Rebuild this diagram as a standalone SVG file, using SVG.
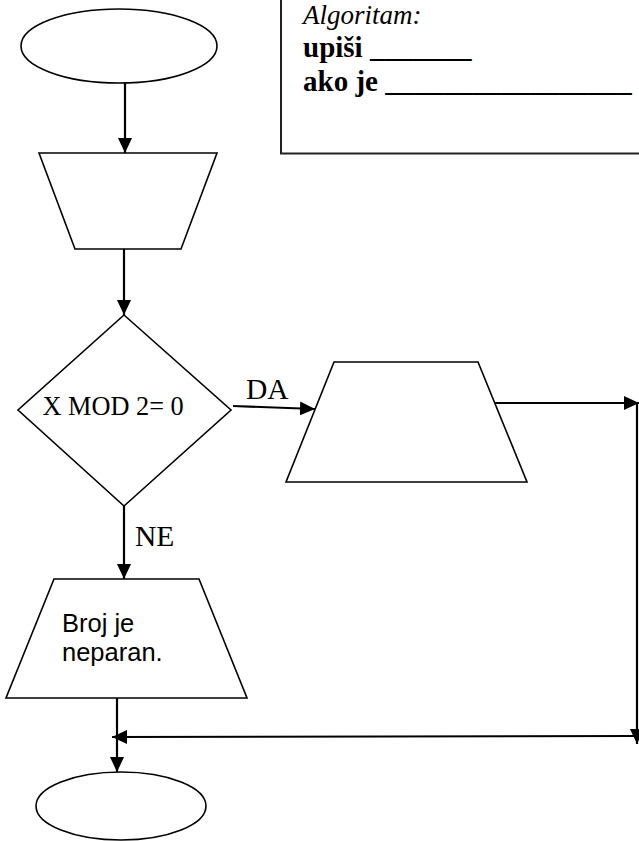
<svg xmlns="http://www.w3.org/2000/svg" width="639" height="841" viewBox="0 0 639 841">
<style>
.shape{fill:#fff;stroke:#000;stroke-width:1.6}
.conn{fill:none;stroke:#000;stroke-width:2.2}
.serif{font-family:"Liberation Serif","Times New Roman",serif;fill:#000}
.sans{font-family:"Liberation Sans",Arial,sans-serif;fill:#000}
</style>
<defs>
<marker id="arr" markerUnits="userSpaceOnUse" markerWidth="16" markerHeight="14" refX="15" refY="7" orient="auto">
<path d="M0,0 L15,7 L0,14 Z" fill="#000"/>
</marker>
</defs>
<g id="note">
<rect x="281" y="-10" width="380" height="163.5" fill="#fff" stroke="#222" stroke-width="2"/>
<text class="serif" x="303" y="24" font-size="27" font-style="italic">Algoritam:</text>
<text class="serif" x="303" y="57" font-size="29" font-weight="bold">upiši _______</text>
<text class="serif" x="303" y="91" font-size="29" font-weight="bold">ako je _________________</text>
</g>
<g id="start"><ellipse class="shape" cx="119" cy="46" rx="98" ry="37"/></g>
<g id="input"><polygon class="shape" points="39,153 217,153 181,249 75,249"/></g>
<g id="decision">
<polygon class="shape" points="124,315 231,410 124,506 18,410"/>
<text class="serif" x="42.5" y="415" font-size="26.3">X MOD 2= 0</text>
</g>
<g id="output-even"><polygon class="shape" points="334,362 478,362 527,482 286,482"/></g>
<g id="output-odd">
<polygon class="shape" points="54,579 199,579 247,698 6,698"/>
<text class="sans" x="62" y="632" font-size="25.5">Broj je</text>
<text class="sans" x="62" y="661" font-size="25.5">neparan.</text>
</g>
<g id="end"><ellipse class="shape" cx="121" cy="806" rx="85" ry="34"/></g>
<g id="connectors">
<line class="conn" x1="125" y1="83" x2="125" y2="153" marker-end="url(#arr)"/>
<line class="conn" x1="124" y1="249" x2="124" y2="315" marker-end="url(#arr)"/>
<line class="conn" x1="233" y1="406" x2="315" y2="409" marker-end="url(#arr)"/>
<line class="conn" x1="124" y1="506" x2="124" y2="579" marker-end="url(#arr)"/>
<line class="conn" x1="495" y1="403" x2="639" y2="403" marker-end="url(#arr)"/>
<line class="conn" x1="637" y1="403" x2="637" y2="744" marker-end="url(#arr)"/>
<line class="conn" x1="636" y1="736" x2="112" y2="737" marker-end="url(#arr)"/>
<line class="conn" x1="117" y1="698" x2="117" y2="772" marker-end="url(#arr)"/>
<text class="serif" x="246" y="399" font-size="29.5">DA</text>
<text class="serif" x="135" y="546" font-size="29.5">NE</text>
</g>
</svg>
